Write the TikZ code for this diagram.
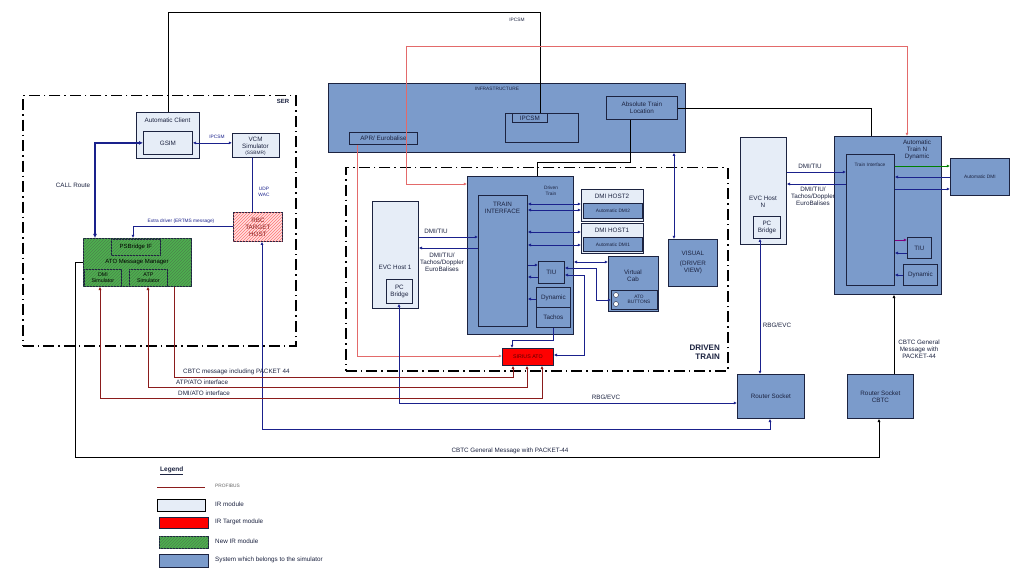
\documentclass[tikz,border=0pt]{standalone}
\usepackage{fontspec}
\setmainfont{Liberation Sans}
\usetikzlibrary{arrows.meta,patterns,calc}
\definecolor{sim}{HTML}{7B9BCB}
\definecolor{irm}{HTML}{E6EDF7}
\definecolor{navy}{HTML}{1A218C}
\definecolor{pbus}{HTML}{8B1C1C}
\definecolor{lred}{HTML}{E36A6A}
\definecolor{ngreen}{HTML}{4DB04F}
\definecolor{txtc}{HTML}{1C2340}
\tikzset{
  bx/.style={draw=txtc, line width=0.8pt, inner sep=0pt, anchor=north west, fill=sim},
  irbox/.style={bx, fill=irm},
  greenbox/.style={bx, fill=ngreen, postaction={pattern=north east lines, pattern color=green!30!black!70}},
  t/.style={font=\fontsize{6.3}{7}\selectfont, align=center, inner sep=0pt, text=txtc},
  ts/.style={font=\fontsize{4.8}{5.6}\selectfont, align=center, inner sep=0pt, text=txtc},
  tg/.style={font=\fontsize{5.3}{6}\selectfont, align=center, inner sep=0pt, text=black},
  tb/.style={font=\fontsize{4.8}{5.6}\selectfont, align=center, inner sep=0pt, text=navy},
  con/.style={draw=navy, line width=0.7pt},
  pb/.style={draw=pbus, line width=0.8pt},
  rl/.style={draw=lred, line width=0.6pt},
  bl/.style={draw=black, line width=0.6pt},
  dd/.style={draw=black, line width=1.5pt, dash pattern=on 11pt off 4pt on 1.5pt off 4pt, inner sep=0pt, anchor=north west},
}
\begin{document}
\begin{tikzpicture}[x=1pt,y=-1pt,>={Latex[length=3.2pt,width=3pt]}]
\useasboundingbox (0,0) rectangle (1023,580);
\fill[white] (0,0) rectangle (1023,580);

% ---------- SER region ----------
\node[dd, minimum width=273pt, minimum height=250pt] (ser) at (22,95) {};
\node[t, font=\bfseries\fontsize{6}{7}\selectfont] (serl) at (283,101) {SER};

\node[irbox, minimum width=63pt, minimum height=46pt] (autoc) at (136,112) {};
\node[t] (autocl) at (167.5,120) {Automatic Client};
\node[irbox, minimum width=49pt, minimum height=23pt] (gsim) at (143,131) {};
\node[t] (gsiml) at (gsim.center) {GSIM};
\node[irbox, minimum width=47pt, minimum height=24pt] (vcm) at (232,133) {};
\node[t] (vcml) at (255.5,143) {VCM\\Simulator};
\node[ts] (vcms) at (255.5,153) {(SSBMR)};
\node[bx, fill=red!12, postaction={pattern=north east lines, pattern color=red!55}, minimum width=49pt, minimum height=29pt] (rbc) at (233,212) {};
\node[t, text=pbus] (rbcl) at (rbc.center) {RBC\\TARGET\\HOST};

\node[greenbox, minimum width=108pt, minimum height=48pt] (atomm) at (83,238) {};
\node[greenbox, minimum width=49pt, minimum height=16pt] (psb) at (111,239) {};
\node[tg, font=\fontsize{6}{7}\selectfont] (psbl) at (psb.center) {PSBridge IF};
\node[tg, font=\fontsize{6}{7}\selectfont] (atomml) at (137,262) {ATO Message Manager};
\node[greenbox, minimum width=37pt, minimum height=17pt] (dmis) at (84,269) {};
\node[tg] (dmisl) at (dmis.center) {DMI\\Simulator};
\node[greenbox, minimum width=38pt, minimum height=17pt] (atps) at (129,269) {};
\node[tg] (atpsl) at (atps.center) {ATP\\Simulator};

% ---------- Infrastructure ----------
\node[bx, minimum width=357pt, minimum height=69pt] (infra) at (328,83) {};
\node[ts] (infral) at (497,89) {INFRASTRUCTURE};
\node[bx, minimum width=68pt, minimum height=12pt] (apr) at (349,132) {};
\node[t] (aprl) at (apr.center) {APR/ Eurobalise};
\node[bx, minimum width=73pt, minimum height=29pt] (ipcsm) at (505,113) {};
\node[bx, minimum width=35pt, minimum height=9pt] (ipcsmb) at (512,113) {};
\node[t] (ipcsml) at (ipcsmb.center) {IPCSM};
\node[bx, minimum width=71pt, minimum height=23pt] (abs) at (606,96) {};
\node[t] (absl) at (abs.center) {Absolute Train\\Location};

% ---------- Driven train ----------
\node[dd, minimum width=382pt, minimum height=203pt] (dtz) at (345,167) {};
\node[t, font=\bfseries\fontsize{8}{9}\selectfont, align=right, anchor=east] (dtzl) at (720,352) {DRIVEN\\TRAIN};

\node[irbox, minimum width=46pt, minimum height=107pt] (evc1) at (372,201) {};
\node[t] (evc1l) at (395,267) {EVC Host 1};
\node[irbox, minimum width=26pt, minimum height=24pt] (pcb1) at (386,279) {};
\node[t] (pcb1l) at (pcb1.center) {PC\\Bridge};

\node[bx, minimum width=106pt, minimum height=158pt] (drv) at (467,176) {};
\node[ts] (drvl) at (551,191) {Driven\\Train};
\node[bx, minimum width=49pt, minimum height=131pt] (ti) at (478,195) {};
\node[t] (til) at (502.5,208) {TRAIN\\INTERFACE};
\node[bx, minimum width=26pt, minimum height=22pt] (tiu) at (538,261) {};
\node[t] (tiul) at (tiu.center) {TIU};
\node[bx, minimum width=34pt, minimum height=20pt] (dyn) at (536,287) {};
\node[t] (dynl) at (dyn.center) {Dynamic};
\node[bx, minimum width=34pt, minimum height=20pt] (tach) at (536,307) {};
\node[t] (tachl) at (tach.center) {Tachos};

\node[irbox, minimum width=62pt, minimum height=32pt] (dmih2) at (581,189) {};
\node[t] (dmih2l) at (612,196) {DMI HOST2};
\node[bx, minimum width=59pt, minimum height=15pt] (adm2) at (583,203) {};
\node[ts] (adm2l) at (adm2.center) {Automatic DMI2};
\node[irbox, minimum width=62pt, minimum height=30pt] (dmih1) at (581,223) {};
\node[t] (dmih1l) at (612,230) {DMI HOST1};
\node[bx, minimum width=59pt, minimum height=14pt] (adm1) at (583,237) {};
\node[ts] (adm1l) at (adm1.center) {Automatic DMI1};

\node[bx, minimum width=50pt, minimum height=55pt] (vcab) at (608,256) {};
\node[t] (vcabl) at (633,276) {Virtual\\Cab};
\node[bx, minimum width=46pt, minimum height=19pt] (atob) at (611,290) {};
\node[ts] (atobl) at (639,299.5) {ATO\\BUTTONS};
\node[circle, draw=txtc, fill=white, line width=0.4pt, inner sep=0pt, minimum size=5pt] (btn1) at (616,295) {};
\node[circle, draw=txtc, fill=white, line width=0.4pt, inner sep=0pt, minimum size=5pt] (btn2) at (616,304) {};

\node[bx, minimum width=49pt, minimum height=47pt] (visual) at (668,239) {};
\node[t] (visuall) at (visual.center) {VISUAL\\[3pt](DRIVER\\VIEW)};

\node[bx, fill=red, minimum width=51pt, minimum height=17pt] (sirius) at (502,348) {};
\node[ts, text=red!35!black, font=\fontsize{5.3}{6}\selectfont] (siriusl) at (sirius.center) {SIRIUS ATO};

% ---------- Right side ----------
\node[irbox, minimum width=46pt, minimum height=107pt] (evcn) at (740,137) {};
\node[t] (evcnl) at (763,202) {EVC Host\\N};
\node[irbox, minimum width=27pt, minimum height=22pt] (pcbn) at (753,216) {};
\node[t] (pcbnl) at (pcbn.center) {PC\\Bridge};

\node[bx, minimum width=107pt, minimum height=158pt] (atn) at (834,136) {};
\node[t] (atnl) at (917,150) {Automatic\\Train N\\Dynamic};
\node[bx, minimum width=48pt, minimum height=131pt] (tin) at (846,154) {};
\node[ts] (tinl) at (870,165) {Train Interface};
\node[bx, minimum width=24pt, minimum height=21pt] (tiun) at (907,237) {};
\node[t] (tiunl) at (tiun.center) {TIU};
\node[bx, minimum width=34pt, minimum height=21pt] (dynn) at (903,264) {};
\node[t] (dynnl) at (dynn.center) {Dynamic};
\node[bx, minimum width=59pt, minimum height=37pt] (adm) at (950,158) {};
\node[ts] (adml) at (adm.center) {Automatic DMI};

\node[bx, minimum width=67pt, minimum height=44pt] (rs) at (737,374) {};
\node[t] (rsl) at (rs.center) {Router Socket};
\node[bx, minimum width=66pt, minimum height=44pt] (rsc) at (847,374) {};
\node[t] (rscl) at (rsc.center) {Router Socket\\CBTC};

% ---------- Connectors: SER ----------
\draw[con, line width=1.4pt, <->, >={Latex[length=4pt,width=4pt]}] (gsim.west) -| ($(atomm.north west)+(12,0)$);
\node[t] (callr) at (73,185) {CALL Route};
\draw[con, <->] (gsim.east) -- (vcm.west |- gsim.east);
\node[tb] (ipl) at (217,137) {IPCSM};
\draw[con] (vcm.south -| 252,0) -- (rbc.north -| 252,0);
\node[tb] (udpl) at (264,192) {UDP\\WAC};
\draw[con, ->] (rbc.west |- 0,226) -| ($(atomm.north west)+(50,0)$);
\node[tb] (extral) at (181,221) {Extra driver (ERTMS message)};

% top black line
\coordinate (ipctop) at (540,113);
\draw[bl] (autoc.north) |- (ipctop |- 0,12) -- (ipctop);
\node[ts] (ipcsmt) at (517,20) {IPCSM};

% red lines
\coordinate (rtop) at (406,46);
\draw[rl, ->] (rtop) |- (drv.west |- 0,184);
\draw[rl, ->] (rtop) -| (atn.north -| 907,0);
\draw[rl, ->] (apr.south -| 357,0) |- (sirius.west |- 0,356);

% absolute train location
\draw[bl] (abs.south -| 630,0) -- (630,162) -| (drv.north -| 537,0);
\draw[bl] (abs.east) -| (atn.north -| 871,0);
\draw[con, <->] (infra.south -| 674,0) -- (visual.north -| 674,0);

% EVC Host 1 <-> Train Interface
\draw[con, ->] (evc1.east |- 0,237) -- (ti.west |- 0,237);
\draw[con, ->] (ti.west |- 0,248) -- (evc1.east |- 0,248);
\node[t] (dt1) at (436,231) {DMI/TIU};
\node[t] (dt2) at (442,262) {DMI/TIU/\\Tachos/Doppler\\EuroBalises};

% TI <-> DMI hosts
\draw[con, <->] (ti.east |- 0,204) -- (dmih2.west |- 0,204);
\draw[con, <->] (ti.east |- 0,210) -- (dmih2.west |- 0,210);
\draw[con, <->] (ti.east |- 0,232) -- (dmih1.west |- 0,232);
\draw[con, <->] (ti.east |- 0,245) -- (dmih1.west |- 0,245);
% TI <-> TIU, Dynamic
\draw[con, ->] (ti.east |- 0,265) -- (tiu.west |- 0,265);
\draw[con, <-] (ti.east |- 0,277) -- (tiu.west |- 0,277);
\draw[con, ->] (dyn.west |- 0,299) -- (ti.east |- 0,299);
% Driven train <-> virtual cab
\draw[con, <->] (drv.east |- 0,262) -- (vcab.west |- 0,262);
% TIU <-> ATO buttons
\draw[con, <->] (tiu.east |- 0,268) -- (596,268) -- (596,300) -- (atob.west |- 0,300);
% TIU <-> SIRIUS
\draw[con, <->] (tiu.east |- 0,275) -- (584,275) -- (584,355) -- (sirius.east |- 0,355);
% Tachos -> SIRIUS
\draw[con, ->] (tach.south) -- ++(0,13) -| ($(sirius.north west)+(10,0)$);

% EVC Host N <-> TI N
\draw[con, ->] (evcn.east |- 0,172) -- (tin.west |- 0,172);
\draw[con, ->] (tin.west |- 0,184) -- (evcn.east |- 0,184);
\node[t] (dt3) at (810,166) {DMI/TIU};
\node[t] (dt4) at (813,196) {DMI/TIU/\\Tachos/Doppler\\EuroBalises};
\draw[draw=green!50!black, line width=0.7pt, ->] (tin.east |- 0,166) -- (adm.west |- 0,166);
\draw[con, <-] (tin.east |- 0,177) -- (adm.west |- 0,177);
\draw[con, ->] (tin.east |- 0,189) -- (adm.west |- 0,189);
\draw[draw=violet, line width=0.7pt, ->] (tin.east |- 0,240) -- (tiun.west |- 0,240);
\draw[con, <-] (tin.east |- 0,253) -- (tiun.west |- 0,253);
\draw[con, ->] (dynn.west |- 0,275) -- (tin.east |- 0,275);

% RBG/EVC connections
\draw[con, <->] (pcbn.south -| 760,0) -- (rs.north -| 760,0);
\node[t] (rbg1) at (777,325) {RBG/EVC};
\draw[con, <->] (pcb1.south -| 399,0) |- (rs.west |- 0,403);
\node[t] (rbg2) at (606,397) {RBG/EVC};
\draw[con, <->] (rbc.south -| 262,0) -- (262,429) -| (rs.south -| 770,0);

% CBTC general message
\draw[bl, ->] (atomm.west |- 0,262) -- (75,262) -- (75,457) -| (rsc.south -| 879,0);
\node[t] (cbtcg) at (510,451) {CBTC General Message with PACKET-44};
\draw[bl, ->] (rsc.north -| 894,0) -- (atn.south -| 894,0);
\node[t] (cbtcg2) at (919,349) {CBTC General\\Message with\\PACKET-44};

% PROFIBUS
\draw[pb, ->] (atomm.south -| 174,0) -- (174,377) -| (sirius.south -| 513,0);
\draw[pb, <->] (atps.south -| 148,0) -- (148,387) -| (sirius.south -| 527,0);
\draw[pb, <->] (dmis.south -| 100,0) -- (100,398) -| (sirius.south -| 542,0);
\node[t, anchor=west] (pl1) at (183,372) {CBTC message including PACKET 44};
\node[t, anchor=west] (pl2) at (176,382) {ATP/ATO interface};
\node[t, anchor=west] (pl3) at (178,393) {DMI/ATO interface};

% ---------- Legend ----------
\node[t, font=\bfseries\fontsize{6.5}{7}\selectfont, anchor=west] (leg) at (160,471) {\underline{Legend}};
\coordinate (lg1a) at (157,487);
\coordinate (lg1b) at (205,487);
\draw[pb, line width=1pt] (lg1a) -- (lg1b);
\node[ts, anchor=west, text=black!60] (lgt1) at (215,486) {PROFIBUS};
\node[irbox, draw=black, line width=1pt, minimum width=48pt, minimum height=12pt] (lgb2) at (157,499) {};
\node[t, anchor=west] (lgt2) at (215,504.5) {IR module};
\node[bx, fill=red, minimum width=49pt, minimum height=11pt] (lgb3) at (159,517) {};
\node[t, anchor=west] (lgt3) at (215,522) {IR Target module};
\node[greenbox, minimum width=49pt, minimum height=12pt] (lgb4) at (159,536) {};
\node[t, anchor=west] (lgt4) at (215,541) {New IR module};
\node[bx, minimum width=49pt, minimum height=13pt] (lgb5) at (159,554) {};
\node[t, anchor=west] (lgt5) at (215,560) {System which belongs to the simulator};
\end{tikzpicture}
\end{document}
